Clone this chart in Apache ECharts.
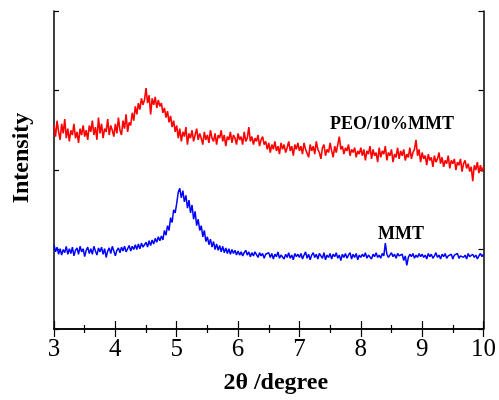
<!DOCTYPE html>
<html>
<head>
<meta charset="utf-8">
<script src="https://cdn.jsdelivr.net/npm/echarts@6/dist/echarts.min.js"></script>
<style>
  html, body { margin: 0; padding: 0; background: #fff; }
  #chart { width: 499px; height: 400px; }
</style>
</head>
<body>
<div id="chart"></div>
<script>
// XRD scans, 2θ from 3° to 10° sampled every 0.025° (40 points per degree)
const twoThetaStart = 3.0;
const twoThetaStep = 0.025;

const peoMmt = [
  // 3.000 – 3.975
  256, 242, 262, 248, 238, 258, 246, 264, 240, 252,
  236, 250, 244, 258, 240, 248, 234, 252, 244, 256,
  242, 250, 238, 256, 248, 262, 244, 254, 238, 266,
  246, 258, 240, 252, 248, 264, 244, 256, 250, 242,
  // 4.000 – 4.975
  258, 246, 266, 250, 244, 262, 252, 270, 248, 260,
  256, 272, 262, 280, 270, 284, 276, 290, 282, 288,
  303, 284, 294, 270, 290, 282, 292, 278, 288, 280,
  284, 272, 278, 266, 274, 260, 268, 254, 262, 248,
  // 5.000 – 5.975
  256, 240, 252, 236, 248, 242, 254, 232, 246, 240,
  250, 236, 244, 252, 238, 246, 240, 232, 248, 238,
  244, 234, 250, 240, 236, 246, 232, 244, 240, 250,
  236, 244, 230, 242, 238, 248, 234, 244, 240, 232,
  // 6.000 – 6.975
  246, 238, 242, 232, 248, 236, 240, 254, 236, 242,
  232, 240, 236, 244, 230, 238, 242, 232, 236, 226,
  234, 222, 232, 226, 236, 224, 230, 220, 234, 226,
  232, 222, 228, 236, 224, 230, 218, 232, 226, 234,
  // 7.000 – 7.975
  224, 230, 220, 234, 226, 228, 216, 232, 224, 230,
  220, 236, 226, 222, 214, 228, 232, 218, 226, 222,
  234, 224, 216, 230, 222, 232, 242, 226, 230, 220,
  228, 224, 232, 218, 226, 222, 228, 216, 224, 220,
  // 8.000 – 8.975
  228, 218, 226, 212, 224, 220, 230, 214, 226, 218,
  222, 210, 228, 216, 224, 220, 230, 212, 222, 218,
  226, 210, 220, 216, 228, 214, 224, 218, 226, 212,
  220, 216, 228, 214, 222, 226, 238, 218, 226, 210,
  // 9.000 – 10.000
  222, 214, 218, 206, 220, 212, 216, 204, 218, 210,
  214, 222, 208, 216, 204, 212, 208, 218, 202, 212,
  208, 214, 200, 210, 206, 214, 198, 208, 212, 202,
  208, 198, 204, 186, 206, 200, 210, 196, 206, 198,
  204
];

const mmt = [
  // 3.000 – 3.975
  106, 97, 103, 94, 101, 93, 100, 96, 104, 94,
  101, 95, 103, 92, 99, 102, 94, 104, 97, 101,
  91, 99, 103, 95, 101, 94, 104, 98, 93, 102,
  97, 103, 94, 101, 90, 98, 102, 95, 104, 98,
  // 4.000 – 4.975
  92, 99, 102, 96, 103, 98, 104, 97, 101, 105,
  98, 104, 100, 106, 100, 107, 101, 108, 103, 106,
  109, 103, 111, 105, 112, 107, 114, 109, 116, 111,
  117, 112, 124, 118, 130, 124, 140, 134, 150, 146,
  // 5.000 – 5.975
  158, 172, 177, 165, 174, 160, 168, 152, 162, 146,
  156, 138, 148, 130, 138, 124, 130, 116, 124, 110,
  116, 106, 113, 103, 110, 100, 107, 99, 105, 97,
  104, 96, 102, 95, 101, 94, 100, 95, 99, 93,
  // 6.000 – 6.975
  98, 93, 97, 92, 96, 99, 93, 97, 91, 96,
  92, 97, 95, 90, 96, 92, 95, 89, 94, 92,
  96, 90, 95, 88, 94, 91, 97, 89, 93, 95,
  88, 94, 90, 96, 89, 93, 87, 95, 91, 94,
  // 7.000 – 7.975
  90, 95, 88, 93, 97, 89, 94, 87, 93, 96,
  90, 94, 88, 95, 92, 89, 96, 87, 93, 90,
  95, 88, 94, 91, 96, 89, 93, 86, 94, 90,
  95, 89, 93, 96, 88, 94, 90, 95, 87, 93,
  // 8.000 – 8.975
  90, 94, 91, 96, 89, 93, 95, 88, 94, 91,
  96, 90, 93, 89, 95, 92, 108, 94, 90, 93,
  96, 91, 94, 89, 95, 92, 90, 94, 86, 92,
  80, 90, 94, 91, 95, 89, 93, 90, 95, 91,
  // 9.000 – 10.000
  94, 90, 93, 88, 95, 91, 94, 89, 92, 96,
  90, 93, 88, 94, 91, 95, 89, 92, 90, 94,
  88, 93, 91, 95, 89, 92, 94, 90, 93, 88,
  95, 91, 89, 94, 90, 93, 88, 92, 95, 91,
  94
];

const xTickLabels = ['3', '4', '5', '6', '7', '8', '9', '10'];
const seriesNames = ['PEO/10%MMT', 'MMT'];

function toPairs(values) {
  return values.map((v, i) => [+(twoThetaStart + i * twoThetaStep).toFixed(3), v]);
}

const serif = '"Liberation Serif", "Times New Roman", serif';
const axisLine = { lineStyle: { color: '#000', width: 1.5 } };
const majorTick = { inside: true, length: 8, lineStyle: { color: '#000', width: 1.2 } };
const minorTick = { show: true, splitNumber: 2, length: 4, lineStyle: { color: '#000', width: 1.2 } };
const yTick = { inside: true, length: 5, lineStyle: { color: '#000', width: 1.2 } };

const chart = echarts.init(document.getElementById('chart'), null, { renderer: 'canvas' });

chart.setOption({
  animation: false,
  backgroundColor: '#fff',
  grid: { left: 54, right: 13, top: 11, bottom: 64, containLabel: false },
  xAxis: [
    {
      type: 'value', min: 3, max: 10, interval: 1, position: 'bottom',
      axisLine: axisLine, axisTick: majorTick, minorTick: minorTick,
      axisLabel: {
        color: '#000', fontFamily: serif, fontSize: 25, margin: 8,
        formatter: v => xTickLabels[Math.round(v) - 3]
      },
      splitLine: { show: false },
      name: '2θ /degree', nameLocation: 'middle', nameGap: 42,
      nameTextStyle: { color: '#000', fontFamily: serif, fontSize: 24, fontWeight: 'bold', padding: [0, 0, 0, 14] }
    },
    {
      type: 'value', min: 3, max: 10, interval: 1, position: 'top',
      axisLine: axisLine, axisTick: majorTick, minorTick: minorTick,
      axisLabel: { show: false },
      splitLine: { show: false }
    }
  ],
  yAxis: [
    {
      type: 'value', min: 0, max: 400, interval: 100, position: 'left',
      axisLine: axisLine, axisTick: yTick,
      axisLabel: { show: false },
      splitLine: { show: false },
      name: 'Intensity', nameLocation: 'middle', nameGap: 20,
      nameTextStyle: { color: '#000', fontFamily: serif, fontSize: 24, fontWeight: 'bold', padding: [0, 0, 0, 24] }
    },
    {
      type: 'value', min: 0, max: 400, interval: 100, position: 'right',
      axisLine: axisLine, axisTick: yTick,
      axisLabel: { show: false },
      splitLine: { show: false }
    }
  ],
  series: [
    {
      name: seriesNames[0], type: 'line', data: toPairs(peoMmt),
      showSymbol: false, lineStyle: { color: '#ff0000', width: 1.6 }, z: 3
    },
    {
      name: seriesNames[1], type: 'line', data: toPairs(mmt),
      showSymbol: false, lineStyle: { color: '#0000ff', width: 1.5 }, z: 3
    }
  ],
  graphic: [
    {
      type: 'text', left: 330, top: 115,
      style: { text: seriesNames[0], fill: '#000', font: 'bold 18px ' + serif }
    },
    {
      type: 'text', left: 378, top: 225,
      style: { text: seriesNames[1], fill: '#000', font: 'bold 18px ' + serif }
    }
  ]
});
</script>
</body>
</html>
